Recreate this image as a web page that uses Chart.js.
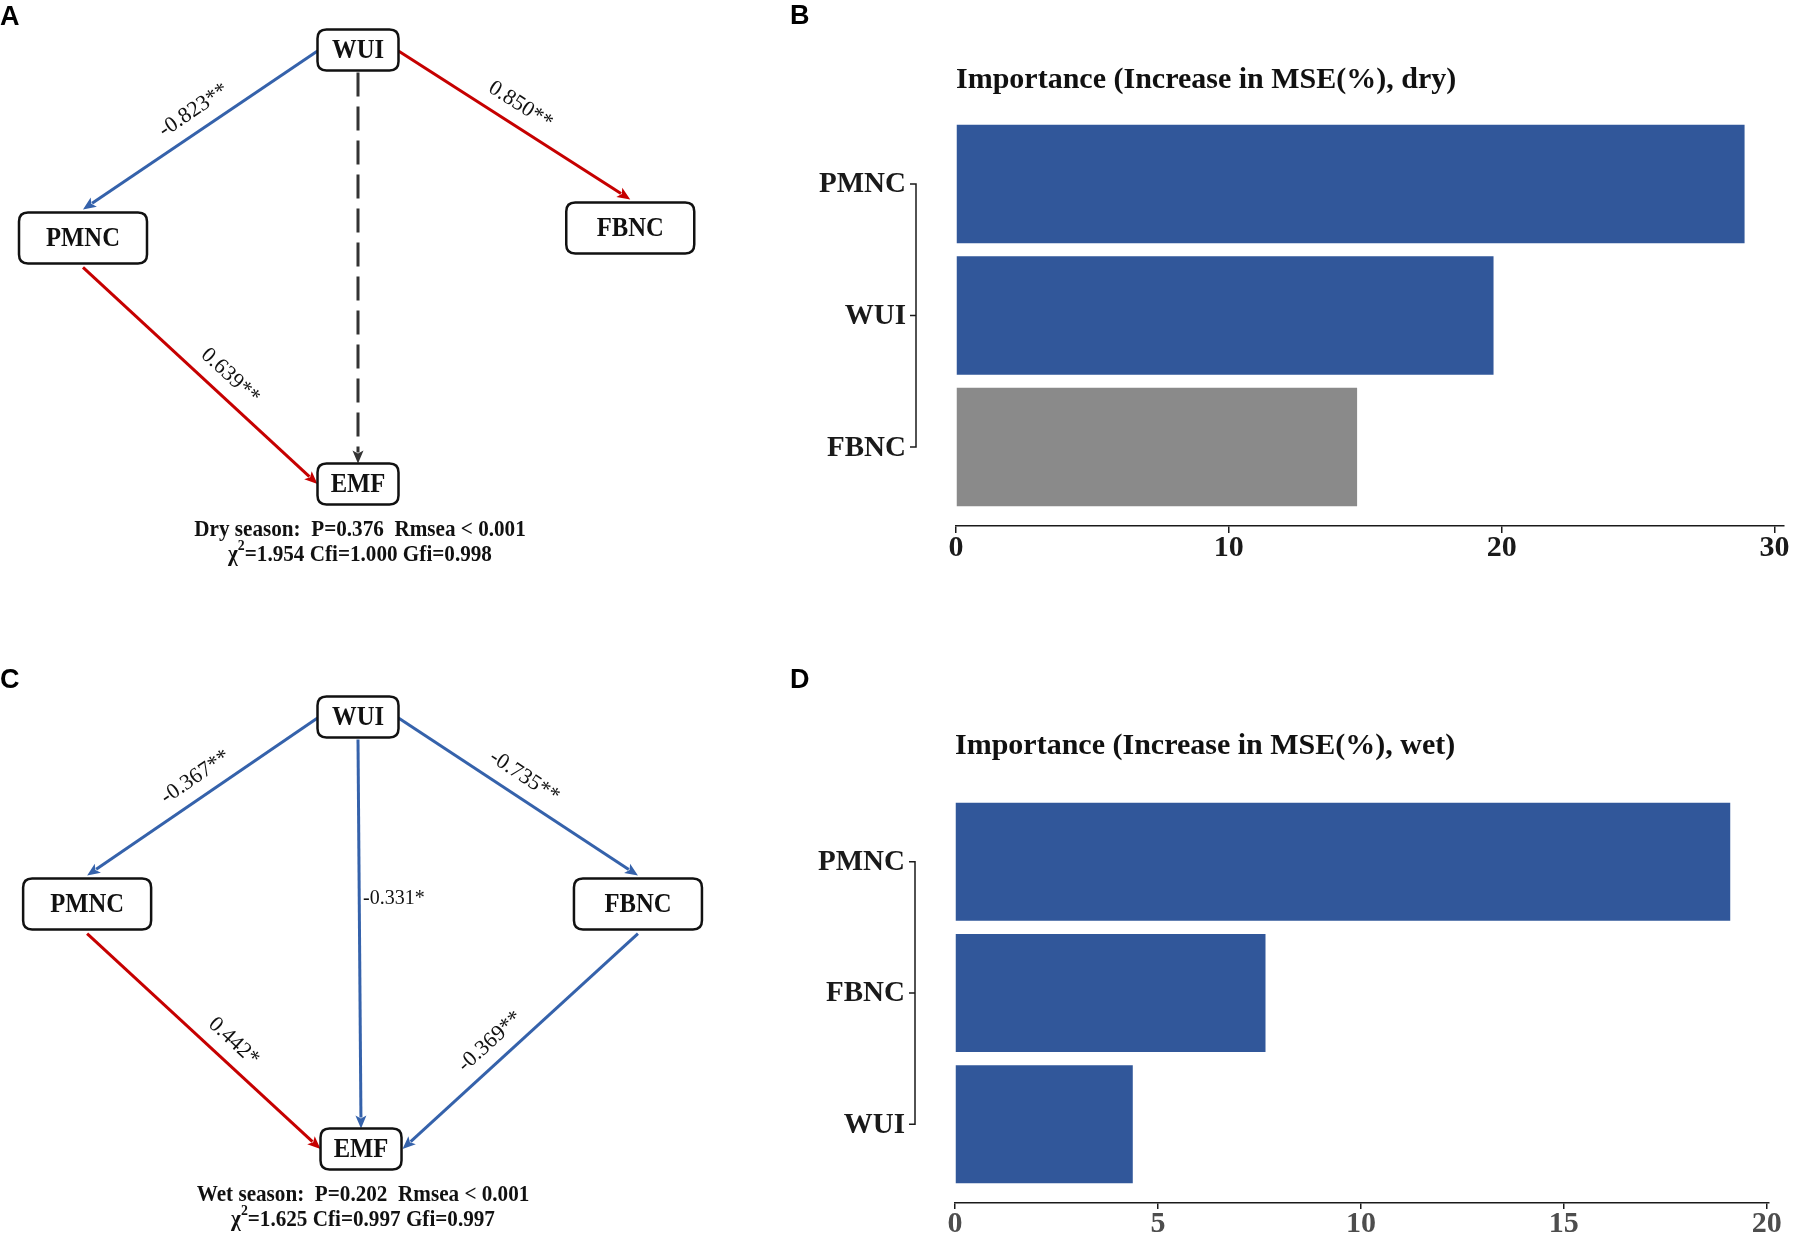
<!DOCTYPE html>
<html lang="en">
<head>
  <meta charset="UTF-8" />
  <title>Path models and variable importance</title>
  <script src="https://cdn.jsdelivr.net/npm/chart.js"></script>
  <style>
    body { margin: 0; background: #fff; }
    .wrap { position: relative; width: 1797px; height: 1237px; overflow: hidden; }
    canvas { position: absolute; }
    #panelA { left: 0; top: 0; }
    #panelB { left: 780px; top: 0; }
    #panelC { left: 0; top: 620px; }
    #panelD { left: 780px; top: 620px; }
  </style>
</head>
<body>
  <div class="wrap">
    <canvas id="panelA" width="780" height="620"></canvas>
    <canvas id="panelB" width="1017" height="620"></canvas>
    <canvas id="panelC" width="780" height="617"></canvas>
    <canvas id="panelD" width="1017" height="617"></canvas>
  </div>

  <script>
    // ---------- path models (A, C) ----------
    const nodeNames = ["WUI", "PMNC", "FBNC", "EMF"];
    // node layout in diagram units (WUI at the origin, one column across, one row down)
    const dryNodeX = [0, -1.0, 0.99, 0];
    const dryNodeY = [0, 0.433, 0.41, 1];
    const wetNodeX = [0, -0.985, 1.018, 0.011];
    const wetNodeY = [0, 0.433, 0.433, 1];

    const dryFrom = ["WUI", "WUI", "WUI", "PMNC"];
    const dryTo   = ["PMNC", "FBNC", "EMF", "EMF"];
    const dryCoef = [-0.823, 0.850, null, 0.639];
    const drySig  = ["**", "**", "ns", "**"];

    const wetFrom = ["WUI", "WUI", "WUI", "PMNC", "FBNC"];
    const wetTo   = ["PMNC", "FBNC", "EMF", "EMF", "EMF"];
    const wetCoef = [-0.367, -0.735, -0.331, 0.442, -0.369];
    const wetSig  = ["**", "**", "*", "*", "**"];

    // P, Rmsea, chi2, Cfi, Gfi
    const dryFit = ["0.376", "< 0.001", "1.954", "1.000", "0.998"];
    const wetFit = ["0.202", "< 0.001", "1.625", "0.997", "0.997"];

    // ---------- random forest importance (B, D) ----------
    const dryVars = ["PMNC", "WUI", "FBNC"];
    const dryMSE = [28.9, 19.7, 14.7];
    const drySignif = [true, true, false];
    const dryTicks = [0, 10, 20, 30];

    const wetVars = ["PMNC", "FBNC", "WUI"];
    const wetMSE = [19.1, 7.65, 4.38];
    const wetSignif = [true, true, true];
    const wetTicks = [0, 5, 10, 15, 20];

    const BLUE = "#3562AB";
    const RED = "#C60000";
    const BAR_BLUE = "#31579A";
    const BAR_GREY = "#8A8A8A";
    const SERIF = "Liberation Serif";

    function squeezeText(ctx, txt, x, y, sx) {
      ctx.save();
      ctx.translate(x, y);
      ctx.scale(sx, 1);
      ctx.fillText(txt, 0, 0);
      ctx.restore();
    }

    function drawLetter(ctx, letter, x, y) {
      ctx.save();
      ctx.font = 'bold 27px "Liberation Sans"';
      ctx.fillStyle = "#000";
      ctx.textAlign = "left";
      ctx.textBaseline = "alphabetic";
      ctx.fillText(letter, x, y);
      ctx.restore();
    }

    function roundBox(ctx, l, t, w, h, r) {
      ctx.beginPath();
      ctx.moveTo(l + r, t);
      ctx.lineTo(l + w - r, t);
      ctx.quadraticCurveTo(l + w, t, l + w, t + r);
      ctx.lineTo(l + w, t + h - r);
      ctx.quadraticCurveTo(l + w, t + h, l + w - r, t + h);
      ctx.lineTo(l + r, t + h);
      ctx.quadraticCurveTo(l, t + h, l, t + h - r);
      ctx.lineTo(l, t + r);
      ctx.quadraticCurveTo(l, t, l + r, t);
      ctx.closePath();
    }

    function arrow(ctx, x0, y0, x1, y1, color, dashed) {
      const ang = Math.atan2(y1 - y0, x1 - x0);
      const head = 13, half = 5.5;
      const bx = x1 - head * Math.cos(ang), by = y1 - head * Math.sin(ang);
      ctx.save();
      ctx.strokeStyle = color;
      ctx.fillStyle = color;
      ctx.lineWidth = 3;
      if (dashed) ctx.setLineDash([24, 10]);
      ctx.beginPath();
      ctx.moveTo(x0, y0);
      ctx.lineTo(bx + 2 * Math.cos(ang), by + 2 * Math.sin(ang));
      ctx.stroke();
      ctx.setLineDash([]);
      ctx.beginPath();
      ctx.moveTo(x1, y1);
      ctx.lineTo(bx + half * Math.sin(ang), by - half * Math.cos(ang));
      ctx.lineTo(bx + 3 * Math.cos(ang), by + 3 * Math.sin(ang));
      ctx.lineTo(bx - half * Math.sin(ang), by + half * Math.cos(ang));
      ctx.closePath();
      ctx.fill();
      ctx.restore();
    }

    function makeDiagramPlugin(cfg) {
      return {
        id: "diagram",
        afterDraw(chart) {
          const { ctx } = chart;
          const xs = chart.scales.x, ys = chart.scales.y;
          const boxes = {};
          nodeNames.forEach((name, i) => {
            const big = name.length > 3;
            const w = big ? 128 : 81, h = big ? 51 : 41;
            const cx = xs.getPixelForValue(cfg.nodeX[i]);
            const cy = ys.getPixelForValue(cfg.nodeY[i]);
            boxes[name] = { cx, cy, w, h, l: cx - w / 2, r: cx + w / 2, t: cy - h / 2, b: cy + h / 2, top: cfg.nodeY[i] === 0 };
          });

          // paths
          cfg.from.forEach((f, i) => {
            const s = boxes[f], e = boxes[cfg.to[i]];
            const dx = e.cx - s.cx;
            let x0, y0, x1, y1;
            if (Math.abs(dx) < 30) { x0 = s.cx; y0 = s.b + 2; x1 = e.cx; y1 = e.t; }
            else if (s.top) { x0 = dx < 0 ? s.l : s.r; y0 = s.cy + 1; x1 = e.cx; y1 = e.t - 3; }
            else { x0 = s.cx; y0 = s.b + 4; x1 = dx < 0 ? e.r + 1 : e.l; y1 = e.cy; }

            const c = cfg.coef[i];
            const ns = cfg.sig[i] === "ns";
            const color = ns ? "#333" : (c < 0 ? BLUE : RED);
            arrow(ctx, x0, y0, x1, y1, color, ns);

            if (c === null) return;
            const txt = c.toFixed(3) + cfg.sig[i];
            ctx.save();
            ctx.fillStyle = "#111";
            ctx.textBaseline = "middle";
            if (Math.abs(dx) < 30) {
              ctx.font = `20px "${SERIF}"`;
              ctx.textAlign = "left";
              ctx.fillText(txt, x0 + 5, y0 + 0.41 * (y1 - y0));
            } else {
              ctx.font = `22px "${SERIF}"`;
              const lx = x1 - x0, ly = y1 - y0, len = Math.hypot(lx, ly);
              let nx = -ly / len, ny = lx / len;
              if (ny > 0) { nx = -nx; ny = -ny; }
              const t = s.top ? 0.48 : 0.57;
              let ang = Math.atan2(ly, lx);
              if (ang > Math.PI / 2) ang -= Math.PI;
              if (ang < -Math.PI / 2) ang += Math.PI;
              ctx.translate(x0 + t * lx + nx * 20, y0 + t * ly + ny * 20);
              ctx.rotate(ang);
              ctx.textAlign = "center";
              ctx.fillText(txt, 0, 0);
            }
            ctx.restore();
          });

          // boxes
          Object.keys(boxes).forEach(name => {
            const b = boxes[name];
            ctx.save();
            roundBox(ctx, b.l, b.t, b.w, b.h, 9);
            ctx.fillStyle = "#fff";
            ctx.fill();
            ctx.lineWidth = 2.5;
            ctx.strokeStyle = "#111";
            ctx.stroke();
            ctx.fillStyle = "#111";
            ctx.font = `bold 28px "${SERIF}"`;
            ctx.textAlign = "center";
            ctx.textBaseline = "middle";
            squeezeText(ctx, name, b.cx, b.cy + 1, 0.88);
            ctx.restore();
          });

          // fit statistics under EMF
          const emf = boxes.EMF;
          const f = cfg.fit;
          ctx.save();
          ctx.fillStyle = "#111";
          ctx.textBaseline = "middle";
          ctx.textAlign = "center";
          ctx.font = `bold 23px "${SERIF}"`;
          squeezeText(ctx, `${cfg.season}:  P=${f[0]}  Rmsea ${f[1]}`, emf.cx + 2, emf.cy + 46, 0.92);
          const parts = [["χ", 23, 0], ["2", 15, -9], [`=${f[2]} Cfi=${f[3]} Gfi=${f[4]}`, 23, 0]];
          let total = 0;
          parts.forEach(p => { ctx.font = `bold ${p[1]}px "${SERIF}"`; p.push(ctx.measureText(p[0]).width * 0.92); total += p[3]; });
          let xpos = emf.cx + 2 - total / 2;
          ctx.textAlign = "left";
          parts.forEach(p => {
            ctx.font = `bold ${p[1]}px "${SERIF}"`;
            squeezeText(ctx, p[0], xpos, emf.cy + 71 + p[2], 0.92);
            xpos += p[3];
          });
          ctx.restore();

          drawLetter(ctx, cfg.letter, 0, cfg.letterY);
        }
      };
    }

    function diagramChart(id, cfg, originX, originY, unitX, unitY) {
      const el = document.getElementById(id);
      return new Chart(el, {
        type: "scatter",
        data: {
          datasets: [{ data: cfg.nodeX.map((v, i) => ({ x: v, y: cfg.nodeY[i] })), pointRadius: 0 }]
        },
        options: {
          responsive: false,
          animation: false,
          layout: { padding: 0 },
          plugins: { legend: { display: false }, tooltip: { enabled: false } },
          scales: {
            x: { type: "linear", display: false, min: -originX / unitX, max: (el.width - originX) / unitX },
            y: { type: "linear", display: false, reverse: true, min: -originY / unitY, max: (el.height - originY) / unitY }
          }
        },
        plugins: [makeDiagramPlugin(cfg)]
      });
    }

    // ggplot-like category axis: short bracket line with ticks, labels to the left
    function makeBracketPlugin(vars, letter, letterY) {
      return {
        id: "bracket",
        afterDraw(chart) {
          const { ctx, chartArea } = chart;
          const ys = chart.scales.y;
          const n = vars.length;
          const ax = chartArea.left - 40;
          ctx.save();
          ctx.strokeStyle = "#1a1a1a";
          ctx.lineWidth = 1.5;
          ctx.beginPath();
          ctx.moveTo(ax, ys.getPixelForValue(1));
          ctx.lineTo(ax, ys.getPixelForValue(n));
          for (let i = 1; i <= n; i++) {
            const py = ys.getPixelForValue(i);
            ctx.moveTo(ax - 6, py);
            ctx.lineTo(ax + 0.75, py);
          }
          ctx.stroke();
          ctx.fillStyle = "#1a1a1a";
          ctx.font = `bold 29px "${SERIF}"`;
          ctx.textAlign = "right";
          ctx.textBaseline = "middle";
          vars.forEach((v, i) => ctx.fillText(v, ax - 10, ys.getPixelForValue(i + 1) + 1));
          ctx.restore();
          drawLetter(ctx, letter, 10, letterY);
        }
      };
    }

    function barChart(id, vars, vals, signif, ticks, title, tickColor, dims) {
      return new Chart(document.getElementById(id), {
        type: "bar",
        data: {
          datasets: [{
            data: vals.map((v, i) => ({ x: v, y: i + 1 })),
            backgroundColor: signif.map(s => (s ? BAR_BLUE : BAR_GREY)),
            borderWidth: 0,
            barPercentage: 0.9,
            categoryPercentage: 1.0
          }]
        },
        options: {
          indexAxis: "y",
          responsive: false,
          animation: false,
          layout: { padding: { left: dims.yw, right: dims.right, top: 0, bottom: 0 } },
          plugins: {
            legend: { display: false },
            tooltip: { enabled: false },
            title: {
              display: true,
              text: title,
              align: "start",
              fullSize: false,
              color: "#111",
              font: { family: SERIF, weight: "bold", size: 30 },
              padding: { top: dims.titleTop, bottom: dims.titleBottom }
            }
          },
          scales: {
            x: {
              type: "linear",
              min: 0,
              max: Math.max(...vals) * 1.05,
              afterBuildTicks: s => { s.ticks = ticks.map(v => ({ value: v })); },
              afterFit: s => { s.height = dims.xh; },
              grid: { display: true, drawOnChartArea: false, drawTicks: true, tickLength: dims.tick, color: "#1a1a1a", lineWidth: 1.5 },
              border: { display: true, color: "#1a1a1a", width: 1.5 },
              ticks: { color: tickColor, padding: -3, font: { family: SERIF, weight: "bold", size: 30 } }
            },
            y: {
              type: "linear",
              display: false,
              offset: false,
              reverse: true,
              min: 0.4,
              max: vars.length + 0.6,
              afterBuildTicks: s => { s.ticks = vars.map((v, i) => ({ value: i + 1 })); }
            }
          }
        },
        plugins: [makeBracketPlugin(vars, dims.letter, dims.letterY)]
      });
    }

    diagramChart("panelA", {
      nodeX: dryNodeX, nodeY: dryNodeY, from: dryFrom, to: dryTo, coef: dryCoef, sig: drySig,
      fit: dryFit, season: "Dry season", letter: "A", letterY: 25
    }, 358, 50, 275, 434);

    diagramChart("panelC", {
      nodeX: wetNodeX, nodeY: wetNodeY, from: wetFrom, to: wetTo, coef: wetCoef, sig: wetSig,
      fit: wetFit, season: "Wet season", letter: "C", letterY: 68
    }, 358, 97, 275, 432);

    barChart("panelB", dryVars, dryMSE, drySignif, dryTicks,
      "Importance (Increase in MSE(%), dry)", "#1a1a1a",
      { yw: 176, xh: 94, right: 13, titleTop: 62, titleBottom: 7, tick: 7, letter: "B", letterY: 24 });

    barChart("panelD", wetVars, wetMSE, wetSignif, wetTicks,
      "Importance (Increase in MSE(%), wet)", "#4d4d4d",
      { yw: 175, xh: 34, right: 28, titleTop: 108, titleBottom: 19, tick: 6, letter: "D", letterY: 68 });
  </script>
</body>
</html>
